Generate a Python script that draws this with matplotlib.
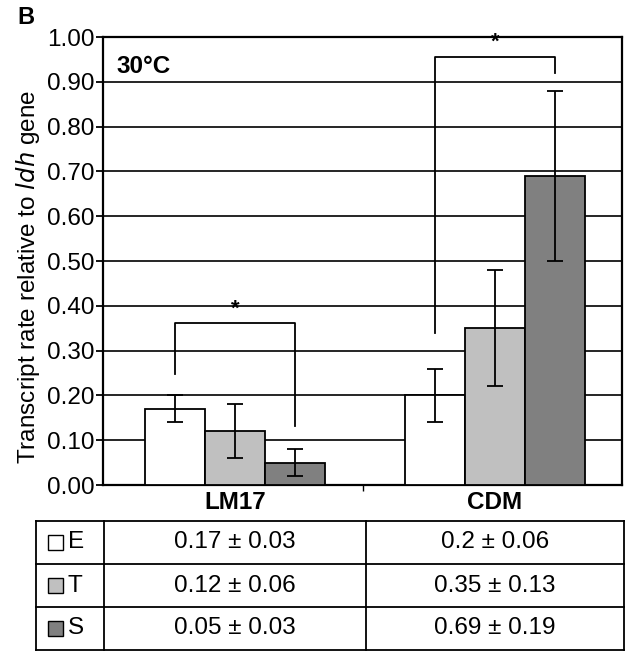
import numpy as np
import matplotlib.pyplot as plt
from matplotlib.patches import Rectangle

plt.rcParams['font.family'] = ['Liberation Sans', 'DejaVu Sans']

categories = ["LM17", "CDM"]
series = ["E", "T", "S"]
means = {"E": [0.17, 0.20], "T": [0.12, 0.35], "S": [0.05, 0.69]}
errs = {"E": [0.03, 0.06], "T": [0.06, 0.13], "S": [0.03, 0.19]}
colors = {"E": "#ffffff", "T": "#c0c0c0", "S": "#808080"}
table_text = {"E": ["0.17 ± 0.03", "0.2 ± 0.06"],
              "T": ["0.12 ± 0.06", "0.35 ± 0.13"],
              "S": ["0.05 ± 0.03", "0.69 ± 0.19"]}
# significance brackets: (category, left series, right series, left leg bottom, top, right leg bottom)
brackets = [(0, "E", "S", 0.248, 0.362, 0.132),
            (1, "E", "S", 0.34, 0.956, 0.92)]

FS = 17.5
W, H = 627, 653
fig = plt.figure(figsize=(W / 100, H / 100), dpi=100)
ax = fig.add_axes([103 / W, 1 - 485 / H, (622 - 103) / W, (485 - 37) / H])

x = np.arange(len(categories))
bw = 0.231
offsets = {"E": -bw, "T": 0.0, "S": bw}
for s in series:
    ax.bar(x + offsets[s] + 0.01, means[s], bw, color=colors[s], edgecolor="black",
           linewidth=1.3, zorder=3)
    ax.errorbar(x + offsets[s] + 0.01, means[s], yerr=errs[s], fmt="none", ecolor="black",
                elinewidth=1.3, capsize=6, capthick=1.3, zorder=4)

for ci, a, b, lb, top, rb in brackets:
    xa = ci + offsets[a] + 0.01
    xb = ci + offsets[b] + 0.01
    ax.plot([xa, xa, xb, xb], [lb, top, top, rb], color="black", lw=1.3, zorder=5)
    ax.text((xa + xb) / 2, top + 0.008, "*", ha="center", va="bottom",
            fontsize=16, fontweight="bold")

ax.set_xlim(-0.5, 1.5)
ax.set_ylim(0, 1.0)
ax.set_yticks(np.arange(0, 1.01, 0.1))
ax.set_yticklabels([f"{v:.2f}" for v in np.arange(0, 1.01, 0.1)], fontsize=FS)
ax.set_xticks([0.5])
ax.set_xticklabels([])
ax.tick_params(axis="x", direction="out", length=4, width=1)
ax.tick_params(axis="y", direction="out", length=5, width=1.3, pad=1)
ax.yaxis.grid(True, color="black", lw=1.2, zorder=0)
ax.set_axisbelow(True)
for sp in ax.spines.values():
    sp.set_linewidth(1.6)
ax.set_ylabel(r"Transcript rate relative to $\it{ldh}$ gene", fontsize=FS)
ax.yaxis.set_label_coords(-0.117, 0.464)
ax.text(0.025, 0.935, "30°C", transform=ax.transAxes, fontsize=FS, fontweight="bold",
        va="center")

for i, c in enumerate(categories):
    ax.text(i + 0.01, -0.038, c, ha="center", va="center", fontsize=FS,
            fontweight="bold", clip_on=False)

fig.text(17 / W, 1 - 18 / H, "B", fontsize=17, fontweight="bold", va="center")

# table below the chart, in pixel coordinates
tax = fig.add_axes([0, 0, 1, 1])
tax.set_xlim(0, W)
tax.set_ylim(H, 0)
tax.axis("off")
cols = [36, 104, 366, 624]
rows = [521, 564, 607, 650]
for yy in rows:
    tax.plot([cols[0], cols[-1]], [yy, yy], color="black", lw=1.3)
for xx in cols:
    tax.plot([xx, xx], [rows[0], rows[-1]], color="black", lw=1.3)
for r, s in enumerate(series):
    yc = (rows[r] + rows[r + 1]) / 2
    tax.add_patch(Rectangle((48, yc - 7.5), 15, 15, facecolor=colors[s],
                            edgecolor="black", lw=1.0))
    tax.text(68, yc, s, fontsize=FS, va="center", ha="left")
    for c in range(2):
        tax.text((cols[c + 1] + cols[c + 2]) / 2, yc, table_text[s][c],
                 fontsize=FS, va="center", ha="center")

fig.savefig("out.png", dpi=100)
